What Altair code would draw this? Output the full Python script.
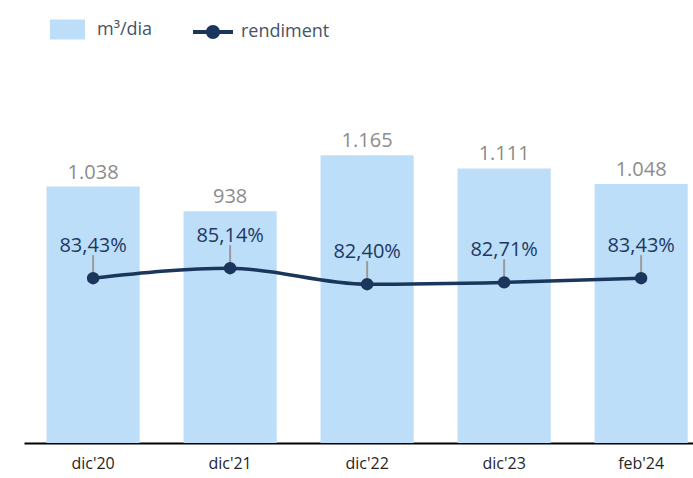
import altair as alt
import pandas as pd

categories = ["dic'20", "dic'21", "dic'22", "dic'23", "feb'24"]
m3_dia = [1038, 938, 1165, 1111, 1048]
m3_labels = ["1.038", "938", "1.165", "1.111", "1.048"]
rendiment = [83.43, 85.14, 82.40, 82.71, 83.43]
rend_labels = ["83,43%", "85,14%", "82,40%", "82,71%", "83,43%"]

df = pd.DataFrame({
    "cat": categories,
    "m3": m3_dia,
    "m3_label": m3_labels,
    "rend": rendiment,
    "rend_label": rend_labels,
    "s1": ["m³/dia"] * 5,
    "s2": ["rendiment"] * 5,
})

FONT = "Open Sans"
BAR = "#BDDEF8"
NAVY = "#1B365D"

x = alt.X("cat:N", sort=categories, title=None,
          scale=alt.Scale(paddingInner=0.32, paddingOuter=0.1015, align=0.81),
          axis=alt.Axis(labelAngle=0, ticks=False, domainColor="#000000", domainWidth=2,
                        labelFont=FONT, labelFontSize=16, labelColor="#262626",
                        labelPadding=12, grid=False))

ybar = alt.Y("m3:Q", scale=alt.Scale(domain=[0, 1550], nice=False, zero=True), axis=None)
yline = alt.Y("rend:Q", scale=alt.Scale(domain=[55.2, 120.8], nice=False, zero=False), axis=None)

base = alt.Chart(df)

bars = base.mark_bar(opacity=1).encode(
    x=x, y=ybar,
    color=alt.Color("s1:N", scale=alt.Scale(domain=["m³/dia"], range=[BAR]),
                    legend=alt.Legend(title=None, orient="none", legendX=26, legendY=-48,
                                      direction="horizontal", padding=0,
                                      symbolType="M-1,-0.571 H1 V0.571 H-1 Z", symbolSize=1225,
                                      symbolStrokeWidth=0, symbolOpacity=1,
                                      labelFont=FONT, labelFontSize=18, labelColor="#44546A",
                                      labelOffset=12)),
)

bar_text = base.mark_text(dy=-14, baseline="middle", font=FONT, fontSize=20, color="#8C8C8C").encode(
    x=x, y=ybar, text="m3_label:N")

ticks = base.mark_rule(color="#9A9A9A", strokeWidth=2, y2Offset=-23).encode(
    x=x, y=yline, y2="rend:Q")

line = base.mark_line(interpolate="monotone", strokeWidth=3.5).encode(
    x=x, y=yline,
    stroke=alt.Stroke("s2:N", scale=alt.Scale(domain=["rendiment"], range=[NAVY]),
                      legend=alt.Legend(title=None, orient="none", legendX=169, legendY=-48,
                                        direction="horizontal", padding=0,
                                        symbolType="M-1,-0.1 H1 V0.1 H-1 Z M0.35,0 A0.35,0.35 0 1,1 -0.35,0 A0.35,0.35 0 1,1 0.35,0 Z",
                                        symbolSize=1600, symbolFillColor=NAVY, symbolStrokeWidth=0,
                                        labelFont=FONT, labelFontSize=18, labelColor="#44546A",
                                        labelOffset=8)),
)

points = base.mark_circle(size=154, opacity=1, color=NAVY).encode(x=x, y=yline)

line_text = base.mark_text(dy=-32, baseline="middle", font=FONT, fontSize=20, color="#203864").encode(
    x=x, y=yline, text="rend_label:N")

chart = alt.layer(bars, bar_text, ticks, line, points, line_text).resolve_scale(
    y="independent"
).properties(
    width=669, height=383,
    padding={"left": 24, "top": 60, "right": 0, "bottom": 35},
    autosize=alt.AutoSizeParams(type="none"),
).configure_view(stroke=None).configure_legend(symbolOpacity=1)

chart.save("out.html", embed_options={"renderer": "svg", "actions": False})
